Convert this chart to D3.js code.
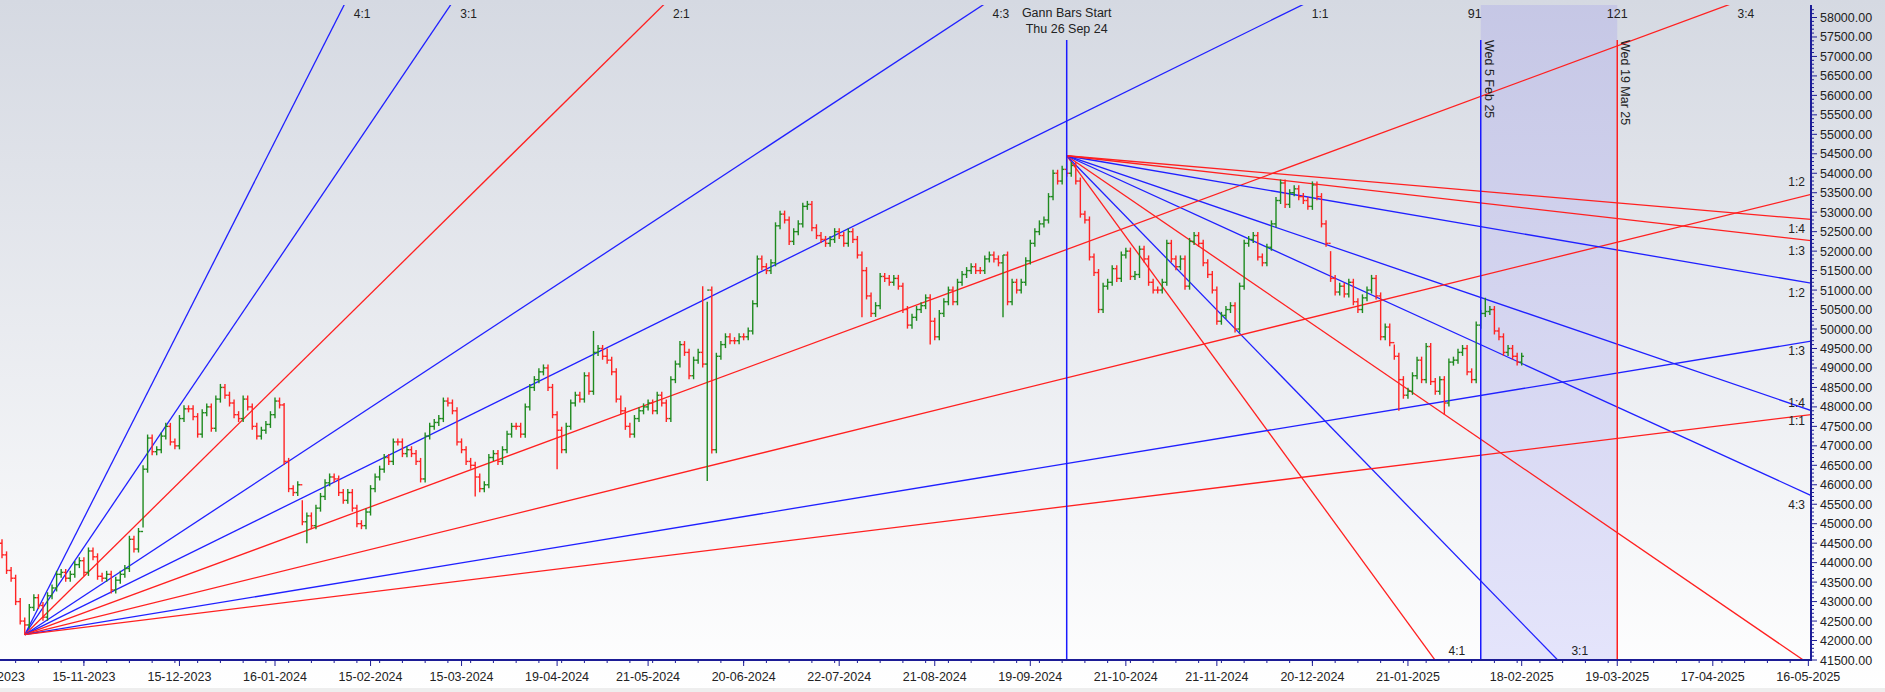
<!DOCTYPE html>
<html>
<head>
<meta charset="utf-8">
<script src="https://cdn.jsdelivr.net/npm/d3@7"></script>
<style>
  body { margin: 0; overflow: hidden; background: #fff; }
  text { font-family: "Liberation Sans", Arial, sans-serif; fill: #222; }
</style>
</head>
<body>
<svg id="chart" width="1885" height="692"></svg>
<script>
// daily closes, one per bar (bar 0 = 19 Oct 2023)
const closes = [
  44200, 43800, 43600, 43000, 42500, 42400,
  42850, 43100, 42900, 42600, 43150, 43350, 43700, 43750, 43600, 43700, 43950, 44050, 43750, 44300,
  44150, 43650, 43600, 43700, 43300, 43550, 43700, 43850, 44600, 44350, 44800, 46400,
  47200, 46850, 46900, 47250, 47500, 47100, 47000, 47700, 47950, 47950, 47750, 47300, 47850, 48000,
  47450, 48200, 48500, 48300, 48100, 47800, 47700, 48200, 48000, 47500, 47250, 47400, 47550, 47800,
  48150, 48050,
  46600, 45900, 45800, 46000, 45050, 45200, 44950, 45400, 45700, 46050, 46200, 46150, 45800, 45600,
  45800, 45400, 45000, 44950, 45300, 45900, 46200, 46400, 46700, 46600, 47100, 47100, 46800, 46900,
  46800, 46600, 46150, 47250, 47500, 47600, 47700, 48150, 48100, 47900, 47100, 46900, 46600, 46500,
  46200, 45900, 46000, 46700, 46800, 46600, 46900, 47300, 47500, 47500, 47300, 48000, 48500, 48700,
  48900, 49000, 48500, 47800, 47400, 46900, 47500, 48100, 48300, 48200, 48800, 48400, 49400, 49500,
  49300, 49200, 48900, 48200, 47900, 47500, 47300, 47700, 47900, 48000, 48100, 47900, 48300, 48100,
  47700, 48700, 49100, 49600, 49400, 48800, 49200, 49400,
  49100, 51000, 46900, 49300, 49600, 49800, 49700, 49700, 49800, 49800, 49950, 50650, 51800, 51600,
  51500, 51700, 52650, 52950, 52800, 52250, 52500, 52700, 53150, 53200, 52600, 52400, 52300, 52200,
  52300, 52500, 52400, 52200, 52500, 52300, 51900, 51500, 50850, 50400, 50600, 51350, 51300, 51200,
  51300, 51100, 50500, 50100, 50300, 50500, 50600, 50800, 50200, 49800, 50400, 50700, 51000, 50700,
  51200, 51400, 51500, 51600, 51500, 51500, 51800, 51900, 51800, 51700, 51900, 50700, 51200, 51000,
  51200, 51750, 52200, 52500, 52700, 52800, 53400, 54000, 53800, 54100, 54000, 54200,
  53800, 52950, 52800, 51850, 51450, 50500, 51100, 51200, 51550, 51300, 51900, 52000, 51350, 51400,
  52050, 51800, 51200, 51000, 51000, 51200, 52200, 51800, 51600, 51800, 51100, 52250, 52400, 52200,
  51700, 51400, 51000, 50200, 50350, 50500, 50600, 50000, 51100, 52200, 52300, 52400, 51850, 51700,
  52100, 52700, 53300, 53750, 53200, 53500, 53600, 53400, 53300, 53150, 53700, 53400, 52700, 52200,
  51300, 50950, 51100, 50900, 51200, 50700, 50500, 50800, 51000, 51300, 50850, 49800, 50050, 49650,
  49300, 48700, 48300, 48400, 48800, 49200, 48700, 49550, 48650, 48400, 48700, 48100, 49150, 49200,
  49400, 49500, 48900, 48700, 50100, 50400, 50450, 50500, 49950, 49800, 49400, 49500, 49300, 49150,
  49300
];
// bars whose high / low reach well past open and close: [bar, price]
const highs = [[0, 44600], [31, 46500], [62, 48100], [66, 45600], [130, 49950], [133, 49500], [154, 51100], [155, 50700], [220, 51900], [234, 54450], [292, 52000], [306, 49600], [326, 50800]];
const lows = [[5, 42150], [31, 44900], [67, 44500], [104, 45700], [122, 46400], [155, 46100], [156, 46800], [189, 50300], [204, 49600], [220, 50300], [307, 47900], [317, 47800]];
const wick = 90;

const fanLow = { bar: 5, price: 42150, unit: 57.6 };
const fanHigh = { bar: 234, price: 54450, unit: 40 };
const fanNames = ["4:1", "3:1", "2:1", "4:3", "1:1", "3:4", "1:2", "1:3", "1:4"];
const fanRatios = [4, 3, 2, 4 / 3, 1, 3 / 4, 1 / 2, 1 / 3, 1 / 4];
const fanUpColors = ["#2020ff", "#2020ff", "#ff2020", "#2020ff", "#2020ff", "#ff2020", "#ff2020", "#2020ff", "#ff2020"];
// the down fan has no 3:4 line
const fanDownColors = ["#ff2020", "#2020ff", "#ff2020", "#2020ff", "#2020ff", null, "#2020ff", "#ff2020", "#ff2020"];

const markerBars = [91, 121];
const markerDates = ["Wed 5 Feb 25", "Wed 19 Mar 25"];
const gannDate = "Thu 26 Sep 24";

const holidays = ["2023-10-24", "2023-11-14", "2023-11-27", "2023-12-25", "2024-01-22", "2024-01-26",
  "2024-03-08", "2024-03-25", "2024-03-29", "2024-04-11", "2024-04-17", "2024-05-01", "2024-05-20",
  "2024-06-17", "2024-07-17", "2024-08-15", "2024-10-02", "2024-11-01", "2024-11-15", "2024-11-20",
  "2024-12-25"];
const extraSessions = ["2024-01-20"];
const tickLabels = ["16-10-2023", "15-11-2023", "15-12-2023", "16-01-2024", "15-02-2024", "15-03-2024",
  "19-04-2024", "21-05-2024", "20-06-2024", "22-07-2024", "21-08-2024", "19-09-2024", "21-10-2024",
  "21-11-2024", "20-12-2024", "21-01-2025", "18-02-2025", "19-03-2025", "17-04-2025", "16-05-2025"];
const futureTickBars = { "18-02-2025": 334, "19-03-2025": 355, "17-04-2025": 376, "16-05-2025": 397 };

// ---- layout
const W = 1885, H = 692;
const pLeft = 0, pRight = 1811, pTop = 5, pBottom = 660;
const x = d3.scaleLinear().domain([0, 1]).range([2, 6.55]);
const y = d3.scaleLinear().domain([41500, 58000]).range([pBottom, 17.5]);

const svg = d3.select("#chart");
const defs = svg.append("defs");
const bg = defs.append("linearGradient").attr("id", "bg").attr("x1", 0).attr("y1", 0).attr("x2", 0).attr("y2", 1);
bg.append("stop").attr("offset", "0%").attr("stop-color", "#d5d9e2");
bg.append("stop").attr("offset", "100%").attr("stop-color", "#ffffff");
const band = defs.append("linearGradient").attr("id", "band").attr("x1", 0).attr("y1", 0).attr("x2", 0).attr("y2", 1);
band.append("stop").attr("offset", "0%").attr("stop-color", "#c3c4e6");
band.append("stop").attr("offset", "100%").attr("stop-color", "#e0e0fb");
defs.append("clipPath").attr("id", "plot").append("rect")
  .attr("x", pLeft).attr("y", pTop).attr("width", pRight - pLeft).attr("height", pBottom - pTop);

svg.append("rect").attr("width", W).attr("height", H).attr("fill", "url(#bg)");
svg.append("rect").attr("y", 688).attr("width", W).attr("height", 4).attr("fill", "#eeeeee");

const plot = svg.append("g").attr("clip-path", "url(#plot)");

// ---- calendar: bar index -> date
const fmt = d3.timeFormat("%Y-%m-%d");
const lab = d3.timeFormat("%d-%m-%Y");
const hol = new Set(holidays), extra = new Set(extraSessions);
const barDates = [];
for (let d = new Date(2023, 9, 10); barDates.length < 400; d = d3.timeDay.offset(d, 1)) {
  const k = fmt(d), wd = d.getDay();
  if ((wd > 0 && wd < 6 && !hol.has(k)) || extra.has(k)) barDates.push(new Date(d));
}
const lowIdx = barDates.findIndex(d => fmt(d) === "2023-10-26");
const barOf = {};
barDates.forEach((d, i) => { barOf[lab(d)] = i - lowIdx + fanLow.bar; });

// ---- shaded cycle band
const bx0 = x(fanHigh.bar + markerBars[0]), bx1 = x(fanHigh.bar + markerBars[1]);
plot.append("rect").attr("x", bx0).attr("y", pTop).attr("width", bx1 - bx0).attr("height", pBottom - pTop)
  .attr("fill", "url(#band)").attr("opacity", 0.85);

// ---- fans
fanRatios.forEach((r, k) => {
  const far = 1200;
  plot.append("line")
    .attr("x1", x(fanLow.bar)).attr("y1", y(fanLow.price))
    .attr("x2", x(fanLow.bar + far)).attr("y2", y(fanLow.price + r * fanLow.unit * far))
    .attr("stroke", fanUpColors[k]).attr("stroke-width", 1.3);
  if (fanDownColors[k]) plot.append("line")
    .attr("x1", x(fanHigh.bar)).attr("y1", y(fanHigh.price))
    .attr("x2", x(fanHigh.bar + far)).attr("y2", y(fanHigh.price - r * fanHigh.unit * far))
    .attr("stroke", fanDownColors[k]).attr("stroke-width", 1.3);
});

// fan labels
const topPrice = y.invert(pTop);
const endBar = x.invert(pRight);
fanRatios.forEach((r, k) => {
  const reach = fanLow.bar + (topPrice - fanLow.price) / (r * fanLow.unit);
  if (reach < endBar) {
    svg.append("text").attr("x", x(reach) + 18).attr("y", 18).attr("text-anchor", "middle")
      .attr("font-size", 12).text(fanNames[k]);
  } else {
    const py = y(fanLow.price + r * fanLow.unit * (endBar - fanLow.bar));
    svg.append("text").attr("x", pRight - 6).attr("y", py + (k === 7 ? 14 : -8)).attr("text-anchor", "end")
      .attr("font-size", 12).text(fanNames[k]);
  }
  if (!fanDownColors[k]) return;
  const hit = fanHigh.bar + (fanHigh.price - 41500) / (r * fanHigh.unit);
  if (hit < endBar - 2) {
    if (r > 2) svg.append("text").attr("x", x(hit) + 22).attr("y", 655).attr("text-anchor", "middle")
      .attr("font-size", 12).text(fanNames[k]);
  } else if (r < 2) {
    const py = y(fanHigh.price - r * fanHigh.unit * (endBar - fanHigh.bar));
    svg.append("text").attr("x", pRight - 6).attr("y", py + 14).attr("text-anchor", "end")
      .attr("font-size", 12).text(fanNames[k]);
  }
});

// ---- OHLC bars
const hiMap = new Map(highs), loMap = new Map(lows);
const bars = closes.map((c, i) => {
  const o = i === 0 ? 44500 : closes[i - 1];
  const h = hiMap.has(i) ? hiMap.get(i) : Math.max(o, c) + wick;
  const l = loMap.has(i) ? loMap.get(i) : Math.min(o, c) - wick;
  return { i, o, h, l, c };
});
const g = plot.append("g").attr("stroke-width", 1.4);
const bar = g.selectAll("g").data(bars).join("g")
  .attr("stroke", d => d.c > d.o ? "#1f8a1f" : "#ff2424");
bar.append("line").attr("x1", d => x(d.i)).attr("x2", d => x(d.i))
  .attr("y1", d => y(d.h)).attr("y2", d => y(d.l));
bar.append("line").attr("x1", d => x(d.i) - 2.2).attr("x2", d => x(d.i))
  .attr("y1", d => y(d.o)).attr("y2", d => y(d.o));
bar.append("line").attr("x1", d => x(d.i)).attr("x2", d => x(d.i) + 2.2)
  .attr("y1", d => y(d.c)).attr("y2", d => y(d.c));

// ---- vertical markers
plot.append("line").attr("x1", x(fanHigh.bar)).attr("x2", x(fanHigh.bar)).attr("y1", 40).attr("y2", pBottom)
  .attr("stroke", "#1a1aff").attr("stroke-width", 1.5);
svg.append("text").attr("x", x(fanHigh.bar)).attr("y", 17).attr("text-anchor", "middle").attr("font-size", 12.5).text("Gann Bars Start");
svg.append("text").attr("x", x(fanHigh.bar)).attr("y", 33).attr("text-anchor", "middle").attr("font-size", 12.5).text(gannDate);
markerBars.forEach((b, k) => {
  const mx = x(fanHigh.bar + b);
  plot.append("line").attr("x1", mx).attr("x2", mx).attr("y1", 40).attr("y2", pBottom)
    .attr("stroke", k === 0 ? "#1a1aff" : "#ff2020").attr("stroke-width", 1.5);
  svg.append("text").attr("x", mx - (k === 0 ? 6 : 0)).attr("y", 18).attr("text-anchor", "middle").attr("font-size", 12.5).text(b);
  svg.append("text").attr("transform", `translate(${mx + 4},${40}) rotate(90)`).attr("font-size", 12.5).text(markerDates[k]);
});

// ---- y axis
const ax = svg.append("g");
ax.append("line").attr("x1", pRight).attr("x2", pRight).attr("y1", pTop).attr("y2", pBottom + 1)
  .attr("stroke", "#1c1c96").attr("stroke-width", 2);
d3.range(41500, 58201, 100).forEach(v => {
  const major = v % 500 === 0;
  ax.append("line").attr("x1", pRight).attr("x2", pRight + (major ? 6 : 3)).attr("y1", y(v)).attr("y2", y(v))
    .attr("stroke", "#1c1c96").attr("stroke-width", 1);
  if (major) ax.append("text").attr("x", pRight + 9).attr("y", y(v) + 4.5).attr("font-size", 12.5)
    .text(d3.format(".2f")(v));
});

// ---- x axis
ax.append("line").attr("x1", 0).attr("x2", pRight).attr("y1", pBottom).attr("y2", pBottom)
  .attr("stroke", "#1c1c96").attr("stroke-width", 2);
tickLabels.forEach(t => {
  const b = futureTickBars[t] !== undefined ? futureTickBars[t] : barOf[t];
  const tx = x(b);
  ax.append("line").attr("x1", tx).attr("x2", tx).attr("y1", pBottom).attr("y2", pBottom + 6).attr("stroke", "#1c1c96");
  ax.append("text").attr("x", tx).attr("y", 681).attr("text-anchor", "middle").attr("font-size", 12.5).text(t);
});
for (let b = -2; b < endBar; b += 5) {
  ax.append("line").attr("x1", x(b)).attr("x2", x(b)).attr("y1", pBottom).attr("y2", pBottom + 3).attr("stroke", "#1c1c96");
}
</script>
</body>
</html>
